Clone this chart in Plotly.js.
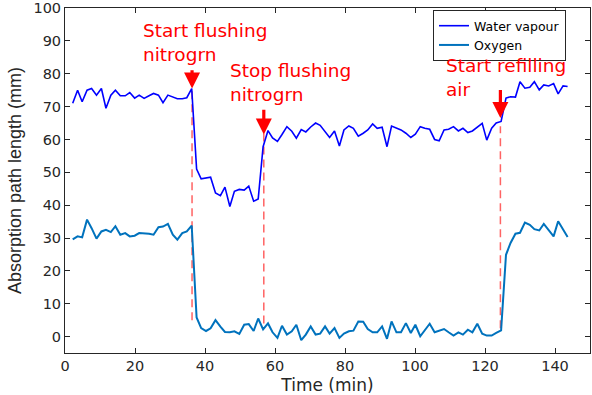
<!DOCTYPE html>
<html>
<head>
<meta charset="utf-8">
<script src="https://cdn.plot.ly/plotly-3.0.1.min.js"></script>
<style>html,body{margin:0;padding:0;background:#fff;}#chart{width:592px;height:395px;}</style>
</head>
<body>
<div id="chart"></div>
<script>
// Time in minutes (sample times)
const time = [2.2,3.6,4.9,6.3,7.6,9.0,10.4,11.7,13.1,14.4,15.8,17.2,18.5,19.9,21.2,22.6,24.0,25.3,26.7,28.0,
  29.4,30.8,32.1,33.5,34.8,36.2,37.6,38.9,40.3,41.6,43.0,44.4,45.7,47.1,48.4,49.8,51.2,52.5,53.9,55.2,
  56.6,58.0,59.3,60.7,62.0,63.4,64.8,66.1,67.5,68.8,70.2,71.6,72.9,74.3,75.6,77.0,78.4,79.7,81.1,82.4,
  83.8,85.2,86.5,87.9,89.2,90.6,92.0,93.3,94.7,96.0,97.4,98.8,100.1,101.5,102.8,104.2,105.6,106.9,108.3,109.6,
  111.0,112.4,113.7,115.1,116.4,117.8,119.2,120.5,121.9,123.2,124.6,126.0,127.3,128.7,130.0,131.4,132.8,134.1,135.5,136.8,
  138.2,139.6,140.9,142.3,143.6];

const waterVapour = [71,75,71.5,75,75.5,73.5,75.5,69.5,73.5,75,73.3,73.3,74.3,72.6,73.5,72.5,73.3,74,73.5,71.2,
  73.5,73,72.4,72.4,72.7,75.5,
  51,48,48.2,48.5,43.7,42.9,45.5,39.6,44.2,44.8,44.6,45.8,41.2,41.9,57.8,62.7,
  60.5,59.4,61.5,63.9,62.5,60.4,63,62.3,63.8,65,64.3,62.3,60.6,62.6,58.0,62.9,64.1,63.4,61.0,61.9,
  62.9,64.7,63.4,63.7,57.8,64.1,63.4,62.9,61.9,60.6,61.6,63.9,63.4,63.1,60.0,59.6,62.9,63.1,63.9,62.6,
  63.4,62.1,62.6,63.9,64.9,59.8,63.4,65.0,
  65.5,72.6,73,72.9,77.6,75.6,75.9,77.6,75.1,76.6,76.3,77,73.9,76.3,76.1];

const oxygen = [29.6,30.5,30.2,35.6,33,29.8,32,32.5,31.8,33.6,31,31.5,30.5,30.7,31.5,31.5,31.3,31,33.3,33.5,
  34.3,31,29.5,31.5,32,33.8,
  5.8,2.6,1.7,2.5,5.0,3.0,1.4,1.3,1.6,0.8,3.6,3.8,1.7,5.5,2.2,4.0,1.3,-0.4,
  3.3,0.6,1.6,3.6,-1.1,0.6,3.1,0.6,0.9,3.1,0.9,2.6,-0.4,0.9,1.6,1.8,4.6,4.5,2.3,1.3,
  1.3,3.1,-0.7,4.6,1.3,1.3,4.1,1.1,3.6,0.1,2.1,3.9,1.3,1.9,2.3,1.3,0.3,1.3,0.6,2.1,1.3,3.9,0.9,0.3,0.3,1.1,1.9,
  24.9,28.5,31.3,31.6,34.7,34,32.7,32.3,34.3,32.3,30.5,35.1,32.5,30.3];

const seriesNames = ['Water vapour', 'Oxygen'];

// Events
const eventTimes = [36.3, 56.8, 124.4];
const eventLineTop = [75, 62, 64];
const eventLineBottom = [5, 4, 2.5];
const arrowTip = [75.5, 61.5, 66.5];
const arrowTail = [81.5, 69.5, 75.5];
const eventLabels = ['Start flushing<br>nitrogrn', 'Stop flushing<br>nitrogrn', 'Start refilling<br>air'];
const labelX = [22, 46.8, 108.6];
const labelY = [89.6, 77.2, 78.9];

const xTicks = [0, 20, 40, 60, 80, 100, 120, 140];
const yTicks = [0, 10, 20, 30, 40, 50, 60, 70, 80, 90, 100];

const axisColor = '#262626';
const hFont = 'DejaVu Sans, sans-serif';

const traces = [
  {x: time, y: waterVapour, name: seriesNames[0], type: 'scatter', mode: 'lines',
   line: {color: '#0000ff', width: 1.6}},
  {x: time, y: oxygen, name: seriesNames[1], type: 'scatter', mode: 'lines',
   line: {color: '#0072BD', width: 2}}
];

const shapes = eventTimes.map((t, i) => ({
  type: 'line', xref: 'x', yref: 'y', x0: t, x1: t, y0: eventLineBottom[i], y1: eventLineTop[i],
  line: {color: 'rgba(255,60,60,0.8)', width: 1.5, dash: '8px,5px'}, layer: 'below'
}));

const annotations = [];
eventTimes.forEach((t, i) => {
  annotations.push({x: t, y: arrowTip[i], ax: t, ay: arrowTail[i], xref: 'x', yref: 'y', axref: 'x', ayref: 'y',
    text: '', showarrow: true, arrowhead: 2, arrowsize: 1, arrowwidth: 3.2, arrowcolor: '#ff0000', standoff: 0});
  annotations.push({x: labelX[i], y: labelY[i], xref: 'x', yref: 'y', text: eventLabels[i], showarrow: false,
    xanchor: 'left', yanchor: 'middle', align: 'left', borderpad: 0,
    font: {family: hFont, size: 18.5, color: '#ff0000'}});
});

const layout = {
  width: 592, height: 395,
  margin: {l: 65, r: 2, t: 8, b: 41.5},
  paper_bgcolor: '#fff', plot_bgcolor: '#fff',
  showlegend: true,
  legend: {x: 0.701, y: 0.994, xanchor: 'left', yanchor: 'top', bgcolor: '#fff',
    bordercolor: axisColor, borderwidth: 1, font: {family: hFont, size: 12.5, color: '#000'},
    tracegroupgap: 0},
  xaxis: {range: [0, 150], tickvals: xTicks, ticks: 'inside', ticklen: 5, tickcolor: axisColor,
    showline: true, linecolor: axisColor, linewidth: 1, mirror: 'ticks', showgrid: false, zeroline: false,
    tickfont: {family: hFont, size: 14.5, color: axisColor}, ticklabeloverflow: 'allow',
    title: {text: 'Time (min)', font: {family: hFont, size: 17, color: axisColor}, standoff: 5}},
  yaxis: {range: [-5, 100.02], tickvals: yTicks, ticks: 'inside', ticklen: 5, tickcolor: axisColor,
    showline: true, linecolor: axisColor, linewidth: 1, mirror: 'ticks', showgrid: false, zeroline: false,
    tickfont: {family: hFont, size: 14.5, color: axisColor}, ticklabeloverflow: 'allow',
    title: {text: 'Absorption path length (mm)', font: {family: 'Liberation Sans, Arial, sans-serif', size: 18, color: axisColor}, standoff: 7}},
  shapes: shapes,
  annotations: annotations
};

Plotly.newPlot('chart', traces, layout, {displayModeBar: false, staticPlot: true});
</script>
</body>
</html>
